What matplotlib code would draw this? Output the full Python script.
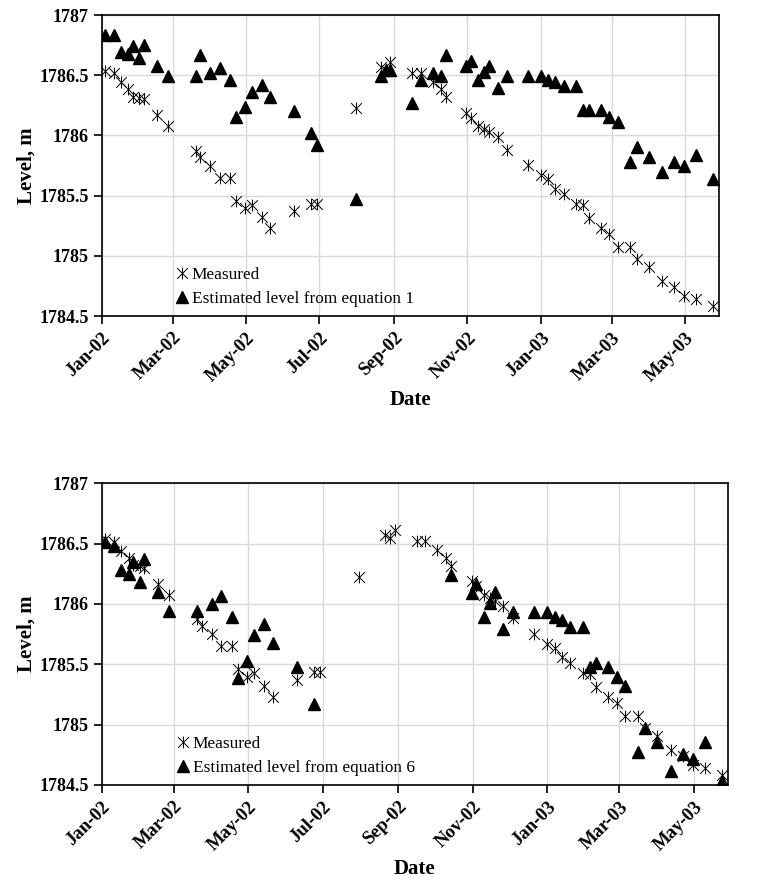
"""
Measured vs estimated water level, Jan 2002 - May 2003.
Two panels: estimate from equation 1 (top) and equation 6 (bottom).
"""

import numpy as np
import pandas as pd
import matplotlib
matplotlib.use("Agg")
import matplotlib.pyplot as plt
import matplotlib.dates as mdates
from matplotlib.path import Path

plt.rcParams["font.family"] = ["Liberation Serif", "DejaVu Serif"]

# ---------------------------------------------------------------
# Data
# ---------------------------------------------------------------
dates = pd.to_datetime([
    "2002-01-04", "2002-01-11", "2002-01-17", "2002-01-23", "2002-01-27",
    "2002-02-01", "2002-02-05", "2002-02-16", "2002-02-25", "2002-03-20",
    "2002-03-24", "2002-04-01", "2002-04-09", "2002-04-18", "2002-04-23",
    "2002-04-30", "2002-05-06", "2002-05-14", "2002-05-21", "2002-06-10",
    "2002-06-24", "2002-06-29", "2002-07-31", "2002-08-21", "2002-08-25",
    "2002-08-29", "2002-09-16", "2002-09-23", "2002-10-03", "2002-10-10",
    "2002-10-14", "2002-10-31", "2002-11-04", "2002-11-10", "2002-11-15",
    "2002-11-19", "2002-11-26", "2002-12-04", "2002-12-21", "2003-01-01",
    "2003-01-07", "2003-01-13", "2003-01-20", "2003-01-30", "2003-02-05",
    "2003-02-10", "2003-02-20", "2003-02-27", "2003-03-06", "2003-03-16",
    "2003-03-22", "2003-04-01", "2003-04-12", "2003-04-22", "2003-04-30",
    "2003-05-10", "2003-05-24",
])

measured = [
    1786.535, 1786.516, 1786.44, 1786.383, 1786.32,
    1786.313, 1786.30, 1786.167, 1786.078, 1785.873,
    1785.82, 1785.748, 1785.649, 1785.649, 1785.458,
    1785.394, 1785.424, 1785.32, 1785.233, 1785.372,
    1785.433, 1785.433, 1786.225, 1786.568, 1786.543,
    1786.61, 1786.52, 1786.52, 1786.446, 1786.383,
    1786.316, 1786.189, 1786.147, 1786.078, 1786.053,
    1786.026, 1785.984, 1785.881, 1785.754, 1785.671,
    1785.635, 1785.557, 1785.51, 1785.428, 1785.422,
    1785.316, 1785.233, 1785.181, 1785.07, 1785.07,
    1784.976, 1784.91, 1784.793, 1784.738, 1784.666,
    1784.639, 1784.585,
]

est_eq1 = [
    1786.83, 1786.83, 1786.69, 1786.68, 1786.74,
    1786.64, 1786.75, 1786.58, 1786.49, 1786.49,
    1786.67, 1786.52, 1786.56, 1786.46, 1786.15,
    1786.24, 1786.36, 1786.42, 1786.32, 1786.20,
    1786.02, 1785.92, 1785.47, 1786.49, 1786.54,
    1786.54, 1786.27, 1786.46, 1786.52, 1786.49,
    1786.67, 1786.58, 1786.62, 1786.46, 1786.53,
    1786.58, 1786.39, 1786.49, 1786.49, 1786.49,
    1786.46, 1786.44, 1786.41, 1786.41, 1786.21,
    1786.21, 1786.21, 1786.15, 1786.11, 1785.78,
    1785.90, 1785.82, 1785.70, 1785.78, 1785.75,
    1785.84, 1785.64,
]

nan = np.nan
est_eq6 = [
    1786.51, 1786.48, 1786.28, 1786.25, 1786.35,
    1786.18, 1786.37, 1786.10, 1785.94, 1785.94,
    nan, 1786.00, 1786.07, 1785.895, 1785.39,
    1785.53, 1785.745, 1785.83, 1785.675, 1785.475,
    1785.17, nan, nan, nan, nan,
    nan, nan, nan, nan, nan,
    1786.24, 1786.09, 1786.166, 1785.895, 1786.006,
    1786.10, 1785.79, 1785.936, 1785.936, 1785.936,
    1785.89, 1785.867, 1785.81, 1785.81, 1785.476,
    1785.509, 1785.48, 1785.393, 1785.323, 1784.776,
    1784.97, 1784.86, 1784.62, 1784.757, 1784.713,
    1784.859, 1784.536,
]

tick_dates = pd.date_range("2002-01-01", "2003-05-01", freq="2MS")
x_min, x_max = pd.Timestamp("2002-01-01"), pd.Timestamp("2003-05-29")

# Excel-style star: an X with a vertical bar through it
star = Path(
    [(-1, -1), (1, 1), (-1, 1), (1, -1), (0, -1.1), (0, 1.1)],
    [Path.MOVETO, Path.LINETO, Path.MOVETO, Path.LINETO,
     Path.MOVETO, Path.LINETO],
)


def draw_panel(ax, est, label):
    ax.plot(dates, measured, linestyle="none", marker=star, markersize=8.5,
            markerfacecolor="none", markeredgecolor="black",
            markeredgewidth=0.7, label="Measured", zorder=3)
    ax.plot(dates, est, linestyle="none", marker="^", markersize=8,
            color="black", label=label, zorder=4)

    ax.set_xlim(x_min, x_max)
    ax.set_ylim(1784.5, 1787)
    ax.set_yticks(np.arange(1784.5, 1787.01, 0.5))
    ax.set_yticklabels(["1784.5", "1785", "1785.5", "1786", "1786.5", "1787"])
    ax.set_xticks(tick_dates)
    ax.xaxis.set_major_formatter(mdates.DateFormatter("%b-%y"))

    ax.grid(True, color="#d9d9d9", linewidth=1)
    ax.set_axisbelow(True)
    for s in ax.spines.values():
        s.set_linewidth(1.2)
        s.set_color("black")
    ax.tick_params(direction="out", length=6, width=1.2, colors="black")

    for t in ax.get_yticklabels():
        t.set_fontsize(13)
        t.set_fontweight("bold")
    for t in ax.get_xticklabels():
        t.set_fontsize(13.5)
        t.set_fontweight("bold")
        t.set_rotation(45)
        t.set_ha("right")
        t.set_rotation_mode("anchor")

    ax.set_ylabel("Level, m", fontsize=15, fontweight="bold", labelpad=2)
    ax.set_xlabel("Date", fontsize=15, fontweight="bold")
    ax.xaxis.set_label_coords(0.5, -0.245)

    leg = ax.legend(loc="lower left", bbox_to_anchor=(0.118, 0.03),
                    frameon=False, fontsize=12.4, handlelength=0.9,
                    handletextpad=0.1, labelspacing=0.45, borderpad=0,
                    borderaxespad=0, numpoints=1)
    return leg


fig = plt.figure(figsize=(7.57, 8.83), dpi=100)
ax1 = fig.add_axes([0.1343, 0.6421, 0.8155, 0.3409])
ax2 = fig.add_axes([0.1343, 0.1110, 0.8273, 0.3417])

draw_panel(ax1, est_eq1, "Estimated level from equation 1")
draw_panel(ax2, est_eq6, "Estimated level from equation 6")

fig.savefig("out.png", dpi=100)
